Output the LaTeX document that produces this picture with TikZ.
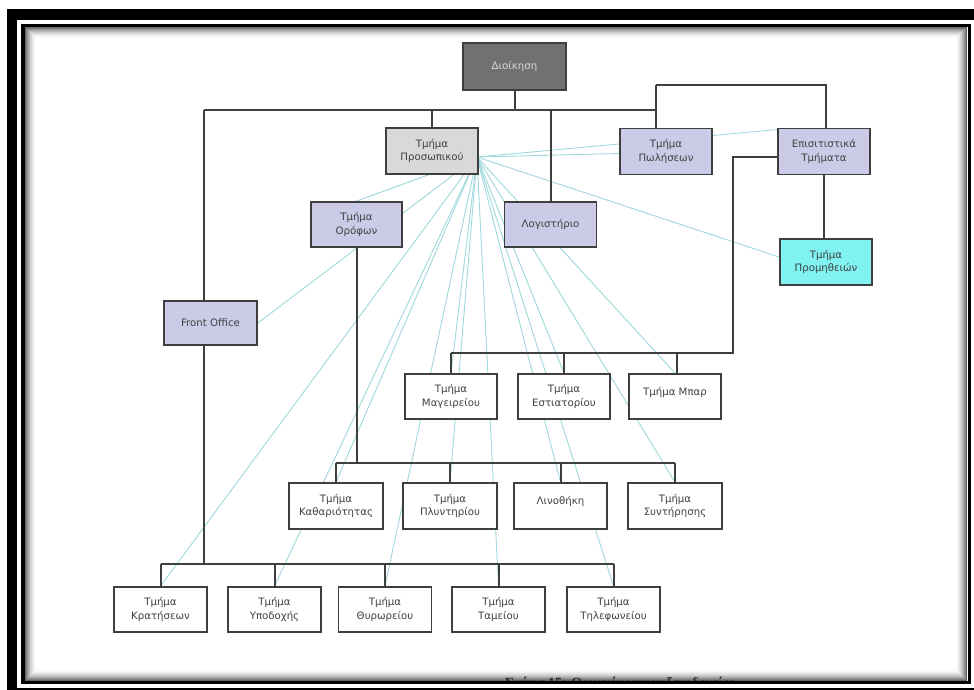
\documentclass[tikz,border=0pt]{standalone}
\usepackage{fontspec}
\setmainfont{DejaVu Sans}
\newfontfamily\capfont{Liberation Serif}
\usetikzlibrary{calc}
\definecolor{edge}{HTML}{3F3F3F}
\definecolor{lav}{HTML}{CBCBE8}
\definecolor{cyanbox}{HTML}{80F2F2}
\definecolor{fan}{HTML}{9FD8DC}
\definecolor{dgray}{HTML}{717171}
\definecolor{lgray}{HTML}{D9D9D9}
\definecolor{txt}{HTML}{404040}
\pgfdeclarelayer{bg}
\pgfsetlayers{bg,main}
\begin{document}
\begin{tikzpicture}[x=1pt,y=-1pt,
  conn/.style={draw=edge, line width=2pt},
  fanline/.style={draw=fan, line width=0.9pt},
  box/.style={draw=edge, line width=1.8pt, fill=white, minimum width=92pt, minimum height=46pt, inner sep=1pt, align=center, text=txt, font=\fontsize{10.2}{13.5}\selectfont},
  lowbox/.style={box, minimum width=93pt, minimum height=45pt},
  lavbox/.style={box, fill=lav}
]
\useasboundingbox (0,0) rectangle (974,689);
\clip (0,0) rectangle (974,689);
\begin{pgfonlayer}{bg}
\fill[white] (0,0) rectangle (974,689);
\end{pgfonlayer}

% inner shadow of the frame
\foreach \i in {0,...,11}{
  \pgfmathsetmacro\c{60*(1-\i/12)^2}
  \draw[black!\c, line width=1.1pt] (25.5+\i,27.5+\i) rectangle (966.5-\i,680.5-\i);
}

% nodes
\node[box, fill=dgray, minimum width=103pt, minimum height=47pt, text=lgray] (dio) at (514.5,66.5) {Διοίκηση};
\node[box, fill=lgray] (pros) at (432,151) {Τμήμα\\Προσωπικού};
\node[lavbox] (pol) at (666,151.5) {Τμήμα\\Πωλήσεων};
\node[lavbox] (epi) at (824,151.5) {Επισιτιστικά\\Τμήματα};
\node[box, fill=cyanbox] (prom) at (826,262) {Τμήμα\\Προμηθειών};
\node[lavbox, minimum width=91pt, minimum height=45pt] (oro) at (356.5,224.5) {Τμήμα\\Ορόφων};
\node[lavbox, minimum height=45pt] (log) at (550.5,224.5) {Λογιστήριο};
\node[lavbox, minimum width=93pt, minimum height=44pt] (fo) at (210.5,323) {Front Office};

\node[box, minimum height=45pt] (mag) at (451,396.5) {Τμήμα\\Μαγειρείου};
\node[box, minimum height=45pt] (est) at (564,396.5) {Τμήμα\\Εστιατορίου};
\node[box, minimum height=45pt] (bar) at (675,396.5) {\raisebox{11pt}{Τμήμα Μπαρ}};

\node[box, minimum width=94pt] (kath) at (336,506) {Τμήμα\\Καθαριότητας};
\node[box, minimum width=94pt] (ply) at (450,506) {Τμήμα\\Πλυντηρίου};
\node[box, minimum width=93pt] (lin) at (560.5,506) {\raisebox{12pt}{Λινοθήκη}};
\node[box, minimum width=94pt] (syn) at (675,506) {Τμήμα\\Συντήρησης};

\node[lowbox] (kra) at (160.5,609.5) {Τμήμα\\Κρατήσεων};
\node[lowbox] (ypo) at (274.5,609.5) {Τμήμα\\Υποδοχής};
\node[lowbox] (thy) at (385,609.5) {Τμήμα\\Θυρωρείου};
\node[lowbox] (tam) at (498.5,609.5) {Τμήμα\\Ταμείου};
\node[lowbox] (til) at (613.5,609.5) {Τμήμα\\Τηλεφωνείου};

% fan lines from Τμήμα Προσωπικού
\coordinate (src) at (477,157);
\begin{pgfonlayer}{bg}
\foreach \n/\dx/\dy in {pol.west/0/2, epi.north west/0/2, prom.west/0/-5,
  oro.north/0/0, fo.east/0/0,
  kra.north/0/0, ypo.north/0/0, thy.north/0/0, tam.north/0/0, til.north/0/0,
  kath.north/0/0, ply.north/0/0, lin.north/0/0, syn.north/0/0,
  mag.north/0/0, est.north/0/0, bar.north/0/0}{
  \draw[fanline] (src) -- ($(\n)+(\dx,\dy)$);
}
\end{pgfonlayer}

% connectors
\coordinate (busL) at (204,110);
\coordinate (busR) at (656,110);
\coordinate (topR) at (656,85);
\coordinate (topRR) at (826,85);
\draw[conn] (dio.south) -- (dio.south |- busL);
\draw[conn] (busL) -- (busR);
\draw[conn] (busL) -- (busL |- fo.north);
\draw[conn] (pros.north |- busL) -- (pros.north);
\draw[conn] (log.north |- busL) -- (log.north);
\draw[conn] (topR) -- (topR |- pol.north);
\draw[conn] (topR) -- (topRR) -- (topRR |- epi.north);
\draw[conn] (epi.south) -- (epi.south |- prom.north);

\coordinate (r1) at (733,353);
\coordinate (r1b) at (677,353);
\coordinate (eL) at (778,157);
\draw[conn] (eL) -| (r1) -- (mag.north |- r1);
\foreach \n in {mag,est}{\draw[conn] (\n.north |- r1) -- (\n.north);}
\draw[conn] (r1b) -- (r1b |- bar.north);

\coordinate (r2) at (356,463);
\draw[conn] (oro.south) -- (oro.south |- r2);
\draw[conn] (kath.north |- r2) -- (syn.north |- r2);
\foreach \n in {kath,ply,lin,syn}{\draw[conn] (\n.north |- r2) -- (\n.north);}

\coordinate (r3) at (204,564);
\draw[conn] (busL |- fo.south) -- (r3);
\draw[conn] (kra.north |- r3) -- (til.north |- r3);
\foreach \n in {kra,ypo,thy,tam,til}{\draw[conn] (\n.north |- r3) -- (\n.north);}

% caption, cut by the frame
\begin{scope}
\clip (0,0) rectangle (974,681);
\node[anchor=base west, inner sep=0pt, text=black!85, font=\capfont\bfseries\fontsize{14}{16}\selectfont] (cap) at (505,687) {Σχήμα 15: Οργανόγραμμα ξενοδοχείου};
\end{scope}

% frame
\draw[black, line width=3.5pt] (23,25.5) rectangle (969.5,682.5);
\draw[black, line width=10.5pt] (12,14.5) rectangle (985,693);
\end{tikzpicture}
\end{document}
